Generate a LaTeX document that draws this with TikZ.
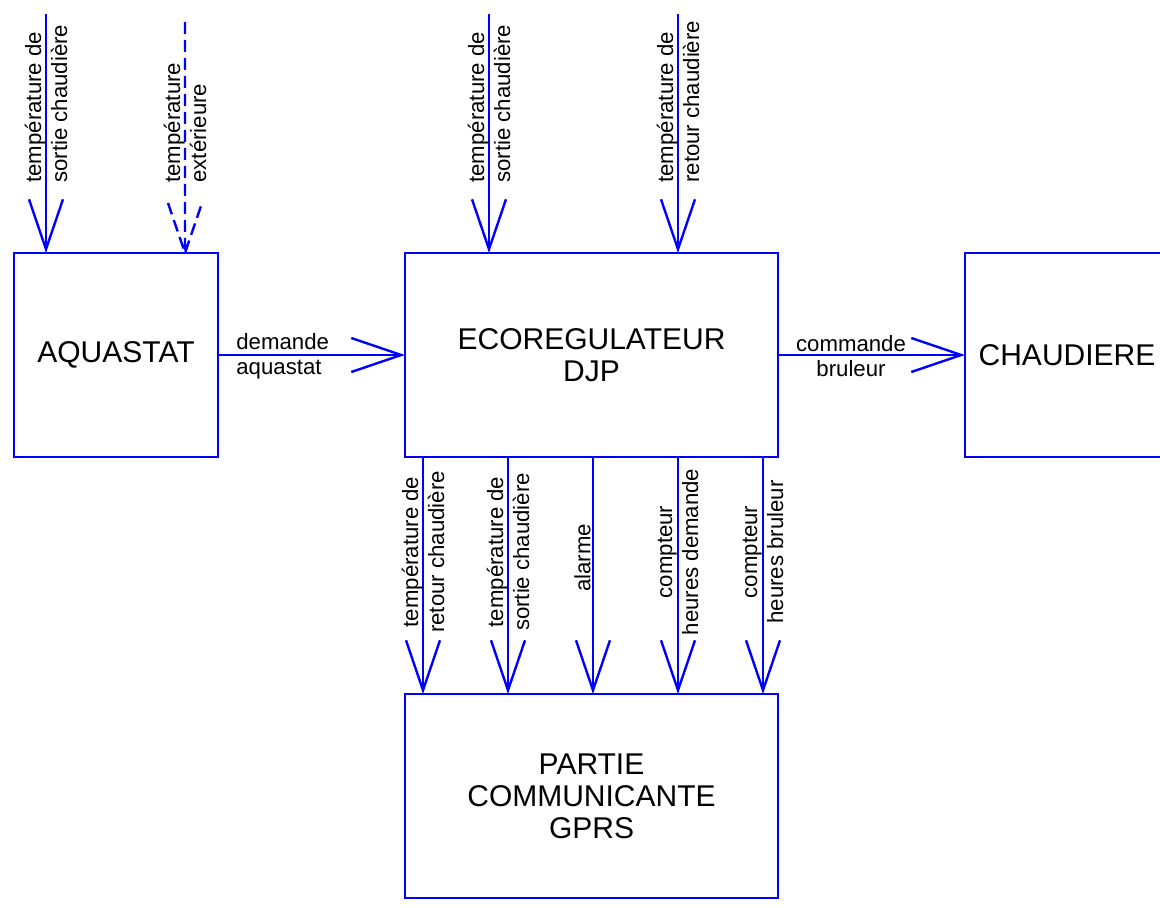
\documentclass[tikz,border=0pt]{standalone}
\usepackage{fontspec}
\setmainfont{Liberation Sans}
\usetikzlibrary{arrows.meta}

\tikzset{
    flow/.style={blue, line width=1.2pt, -{Straight Barb[length=25pt,width=17pt]}},
    block/.style={draw=blue, line width=1.2pt, minimum height=102pt, inner sep=0pt, outer sep=0pt,
        align=center, font=\fontsize{15}{16}\selectfont},
    lbl/.style={rotate=90, align=center, inner sep=1pt, font=\fontsize{11.1}{13}\selectfont},
    hlbl/.style={inner sep=1pt, font=\fontsize{11.1}{12.5}\selectfont},
}

\begin{document}
\begin{tikzpicture}[x=0.5pt,y=-0.5pt]
    \useasboundingbox (0,0) rectangle (1160,908);
    \clip (0,0) rectangle (1160,908);

    % blocs
    \node[block, minimum width=102pt] (aqua) at (116,355) {AQUASTAT};
    \node[block, minimum width=186.5pt] (ecoreg) at (591.5,355) {ECOREGULATEUR\\DJP};
    \node[block, minimum width=102pt] (chaud) at (1067,355) {CHAUDIERE};
    \node[block, minimum width=186.5pt] (gprs) at (591.5,796) {PARTIE\\COMMUNICANTE\\GPRS};

    % entrees du haut
    \coordinate (in1) at (46,14);
    \coordinate (in2) at (185,22);
    \coordinate (in3) at (489,14);
    \coordinate (in4) at (678,14);

    \draw[flow] (in1) -- (in1 |- aqua.north);
    \node[lbl, anchor=west, align=left] (t1) at (46,185) {température de\\sortie chaudière};

    \draw[blue, line width=1.2pt, dash pattern=on 6pt off 3pt]
        (in2) -- (in2 |- aqua.north) coordinate (tip2) ++(-17,-50) -- (tip2) -- ++(17,-50);
    \node[lbl, anchor=west, align=left] (t2) at (185,185) {température\\extérieure};

    \draw[flow] (in3) -- (in3 |- ecoreg.north);
    \node[lbl, anchor=west, align=left] (t3) at (489,185) {température de\\sortie chaudière};

    \draw[flow] (in4) -- (in4 |- ecoreg.north);
    \node[lbl, anchor=west, align=left] (t4) at (678,185) {température de\\retour chaudière};

    % liaisons horizontales
    \draw[flow] (aqua.east) -- (ecoreg.west);
    \node[hlbl, anchor=west, align=left] (h1) at (234,356) {demande\\aquastat};

    \draw[flow] (ecoreg.east) -- (chaud.west);
    \node[hlbl, align=center] (h2) at (851,356) {commande\\bruleur};

    % sorties vers la partie communicante
    \foreach \x [count=\i] in {423,508,593,678,763} {
        \coordinate (out\i) at (\x,0);
        \draw[flow] (ecoreg.south -| out\i) -- (gprs.north -| out\i);
    }

    \node[lbl] (b1) at (423,552) {température de\\retour chaudière};
    \node[lbl] (b2) at (508,552) {température de\\sortie chaudière};
    \node[lbl, anchor=south] (b3) at (593,558) {alarme};
    \node[lbl] (b4) at (678,552) {compteur\\heures demande};
    \node[lbl] (b5) at (763,552) {compteur\\heures bruleur};
\end{tikzpicture}
\end{document}
